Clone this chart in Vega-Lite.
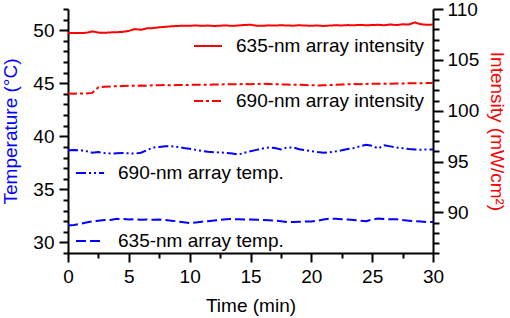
{
"$schema": "https://vega.github.io/schema/vega-lite/v6.json",
"width": 365, "height": 244,
"autosize": {"type": "none"},
"padding": {"left": 68, "top": 9, "right": 77, "bottom": 65},
"config": {
  "font": "Liberation Sans",
  "view": {"stroke": null},
  "axis": {"domainColor": "black", "domainWidth": 2, "tickColor": "black", "tickWidth": 2, "labelColor": "black", "labelFontSize": 19, "titleFontSize": 19, "titleFontWeight": "normal", "labelFont": "Liberation Sans", "titleFont": "Liberation Sans", "grid": false, "labelOverlap": false, "labelBound": false, "labelFlush": false},
  "legend": {"labelFontSize": 19, "labelFont": "Liberation Sans", "labelColor": "black", "labelLimit": 0, "symbolStrokeWidth": 2, "symbolSize": 784, "symbolType": "stroke", "padding": 0}
},
"datasets": {
"temp": [
{"t":0,"s":"690-nm array temp.","v":38.68},{"t":0.5,"s":"690-nm array temp.","v":38.7},{"t":1,"s":"690-nm array temp.","v":38.69},{"t":1.5,"s":"690-nm array temp.","v":38.6},{"t":2,"s":"690-nm array temp.","v":38.45},{"t":2.5,"s":"690-nm array temp.","v":38.52},{"t":3,"s":"690-nm array temp.","v":38.42},{"t":3.5,"s":"690-nm array temp.","v":38.38},{"t":4,"s":"690-nm array temp.","v":38.4},{"t":4.5,"s":"690-nm array temp.","v":38.42},{"t":5,"s":"690-nm array temp.","v":38.4},{"t":5.5,"s":"690-nm array temp.","v":38.37},{"t":6,"s":"690-nm array temp.","v":38.45},{"t":6.5,"s":"690-nm array temp.","v":38.7},{"t":7,"s":"690-nm array temp.","v":38.95},{"t":7.5,"s":"690-nm array temp.","v":39.0},{"t":8,"s":"690-nm array temp.","v":39.06},{"t":8.5,"s":"690-nm array temp.","v":39.07},{"t":9,"s":"690-nm array temp.","v":39.0},{"t":9.5,"s":"690-nm array temp.","v":38.9},{"t":10,"s":"690-nm array temp.","v":38.82},{"t":10.5,"s":"690-nm array temp.","v":38.72},{"t":11,"s":"690-nm array temp.","v":38.62},{"t":11.5,"s":"690-nm array temp.","v":38.55},{"t":12,"s":"690-nm array temp.","v":38.5},{"t":12.5,"s":"690-nm array temp.","v":38.48},{"t":13,"s":"690-nm array temp.","v":38.42},{"t":13.5,"s":"690-nm array temp.","v":38.38},{"t":14,"s":"690-nm array temp.","v":38.28},{"t":14.5,"s":"690-nm array temp.","v":38.45},{"t":15,"s":"690-nm array temp.","v":38.6},{"t":15.5,"s":"690-nm array temp.","v":38.72},{"t":16,"s":"690-nm array temp.","v":38.85},{"t":16.5,"s":"690-nm array temp.","v":38.95},{"t":17,"s":"690-nm array temp.","v":38.9},{"t":17.5,"s":"690-nm array temp.","v":38.77},{"t":18,"s":"690-nm array temp.","v":38.95},{"t":18.5,"s":"690-nm array temp.","v":38.95},{"t":19,"s":"690-nm array temp.","v":38.78},{"t":19.5,"s":"690-nm array temp.","v":38.7},{"t":20,"s":"690-nm array temp.","v":38.6},{"t":20.5,"s":"690-nm array temp.","v":38.52},{"t":21,"s":"690-nm array temp.","v":38.46},{"t":21.5,"s":"690-nm array temp.","v":38.5},{"t":22,"s":"690-nm array temp.","v":38.58},{"t":22.5,"s":"690-nm array temp.","v":38.68},{"t":23,"s":"690-nm array temp.","v":38.8},{"t":23.5,"s":"690-nm array temp.","v":38.9},{"t":24,"s":"690-nm array temp.","v":39.05},{"t":24.5,"s":"690-nm array temp.","v":39.2},{"t":25,"s":"690-nm array temp.","v":39.1},{"t":25.5,"s":"690-nm array temp.","v":38.86},{"t":26,"s":"690-nm array temp.","v":39.15},{"t":26.5,"s":"690-nm array temp.","v":39.05},{"t":27,"s":"690-nm array temp.","v":38.95},{"t":27.5,"s":"690-nm array temp.","v":38.88},{"t":28,"s":"690-nm array temp.","v":38.8},{"t":28.5,"s":"690-nm array temp.","v":38.75},{"t":29,"s":"690-nm array temp.","v":38.74},{"t":29.5,"s":"690-nm array temp.","v":38.75},{"t":30,"s":"690-nm array temp.","v":38.75},
{"t":0,"s":"635-nm array temp.","v":31.6},{"t":0.5,"s":"635-nm array temp.","v":31.65},{"t":1,"s":"635-nm array temp.","v":31.75},{"t":1.5,"s":"635-nm array temp.","v":31.88},{"t":2,"s":"635-nm array temp.","v":31.98},{"t":2.5,"s":"635-nm array temp.","v":32.05},{"t":3,"s":"635-nm array temp.","v":32.1},{"t":3.5,"s":"635-nm array temp.","v":32.12},{"t":4,"s":"635-nm array temp.","v":32.22},{"t":4.5,"s":"635-nm array temp.","v":32.2},{"t":5,"s":"635-nm array temp.","v":32.15},{"t":5.5,"s":"635-nm array temp.","v":32.18},{"t":6,"s":"635-nm array temp.","v":32.14},{"t":6.5,"s":"635-nm array temp.","v":32.16},{"t":7,"s":"635-nm array temp.","v":32.14},{"t":7.5,"s":"635-nm array temp.","v":32.15},{"t":8,"s":"635-nm array temp.","v":32.1},{"t":8.5,"s":"635-nm array temp.","v":32.05},{"t":9,"s":"635-nm array temp.","v":31.98},{"t":9.5,"s":"635-nm array temp.","v":31.9},{"t":10,"s":"635-nm array temp.","v":31.82},{"t":10.5,"s":"635-nm array temp.","v":31.88},{"t":11,"s":"635-nm array temp.","v":31.95},{"t":11.5,"s":"635-nm array temp.","v":32.0},{"t":12,"s":"635-nm array temp.","v":32.06},{"t":12.5,"s":"635-nm array temp.","v":32.12},{"t":13,"s":"635-nm array temp.","v":32.17},{"t":13.5,"s":"635-nm array temp.","v":32.2},{"t":14,"s":"635-nm array temp.","v":32.18},{"t":14.5,"s":"635-nm array temp.","v":32.16},{"t":15,"s":"635-nm array temp.","v":32.15},{"t":15.5,"s":"635-nm array temp.","v":32.14},{"t":16,"s":"635-nm array temp.","v":32.12},{"t":16.5,"s":"635-nm array temp.","v":32.08},{"t":17,"s":"635-nm array temp.","v":32.05},{"t":17.5,"s":"635-nm array temp.","v":32.0},{"t":18,"s":"635-nm array temp.","v":31.93},{"t":18.5,"s":"635-nm array temp.","v":31.92},{"t":19,"s":"635-nm array temp.","v":31.95},{"t":19.5,"s":"635-nm array temp.","v":31.97},{"t":20,"s":"635-nm array temp.","v":31.98},{"t":20.5,"s":"635-nm array temp.","v":32.05},{"t":21,"s":"635-nm array temp.","v":32.15},{"t":21.5,"s":"635-nm array temp.","v":32.24},{"t":22,"s":"635-nm array temp.","v":32.22},{"t":22.5,"s":"635-nm array temp.","v":32.18},{"t":23,"s":"635-nm array temp.","v":32.16},{"t":23.5,"s":"635-nm array temp.","v":32.1},{"t":24,"s":"635-nm array temp.","v":32.05},{"t":24.5,"s":"635-nm array temp.","v":32.0},{"t":25,"s":"635-nm array temp.","v":32.15},{"t":25.5,"s":"635-nm array temp.","v":32.24},{"t":26,"s":"635-nm array temp.","v":32.2},{"t":26.5,"s":"635-nm array temp.","v":32.18},{"t":27,"s":"635-nm array temp.","v":32.17},{"t":27.5,"s":"635-nm array temp.","v":32.1},{"t":28,"s":"635-nm array temp.","v":32.05},{"t":28.5,"s":"635-nm array temp.","v":32.0},{"t":29,"s":"635-nm array temp.","v":31.96},{"t":29.5,"s":"635-nm array temp.","v":31.92},{"t":30,"s":"635-nm array temp.","v":31.92}
],
"inten": [
{"t":0,"s":"635-nm array intensity","v":107.64},{"t":0.5,"s":"635-nm array intensity","v":107.65},{"t":1,"s":"635-nm array intensity","v":107.63},{"t":1.5,"s":"635-nm array intensity","v":107.66},{"t":2,"s":"635-nm array intensity","v":107.8},{"t":2.5,"s":"635-nm array intensity","v":107.68},{"t":3,"s":"635-nm array intensity","v":107.66},{"t":3.5,"s":"635-nm array intensity","v":107.7},{"t":4,"s":"635-nm array intensity","v":107.72},{"t":4.5,"s":"635-nm array intensity","v":107.75},{"t":5,"s":"635-nm array intensity","v":107.85},{"t":5.5,"s":"635-nm array intensity","v":108.02},{"t":6,"s":"635-nm array intensity","v":107.96},{"t":6.5,"s":"635-nm array intensity","v":108.1},{"t":7,"s":"635-nm array intensity","v":108.12},{"t":7.5,"s":"635-nm array intensity","v":108.2},{"t":8,"s":"635-nm array intensity","v":108.25},{"t":8.5,"s":"635-nm array intensity","v":108.3},{"t":9,"s":"635-nm array intensity","v":108.33},{"t":9.5,"s":"635-nm array intensity","v":108.36},{"t":10,"s":"635-nm array intensity","v":108.35},{"t":10.5,"s":"635-nm array intensity","v":108.38},{"t":11,"s":"635-nm array intensity","v":108.34},{"t":11.5,"s":"635-nm array intensity","v":108.37},{"t":12,"s":"635-nm array intensity","v":108.33},{"t":12.5,"s":"635-nm array intensity","v":108.36},{"t":13,"s":"635-nm array intensity","v":108.38},{"t":13.5,"s":"635-nm array intensity","v":108.34},{"t":14,"s":"635-nm array intensity","v":108.38},{"t":14.5,"s":"635-nm array intensity","v":108.43},{"t":15,"s":"635-nm array intensity","v":108.45},{"t":15.5,"s":"635-nm array intensity","v":108.36},{"t":16,"s":"635-nm array intensity","v":108.35},{"t":16.5,"s":"635-nm array intensity","v":108.39},{"t":17,"s":"635-nm array intensity","v":108.37},{"t":17.5,"s":"635-nm array intensity","v":108.4},{"t":18,"s":"635-nm array intensity","v":108.38},{"t":18.5,"s":"635-nm array intensity","v":108.36},{"t":19,"s":"635-nm array intensity","v":108.4},{"t":19.5,"s":"635-nm array intensity","v":108.37},{"t":20,"s":"635-nm array intensity","v":108.35},{"t":20.5,"s":"635-nm array intensity","v":108.38},{"t":21,"s":"635-nm array intensity","v":108.33},{"t":21.5,"s":"635-nm array intensity","v":108.37},{"t":22,"s":"635-nm array intensity","v":108.4},{"t":22.5,"s":"635-nm array intensity","v":108.38},{"t":23,"s":"635-nm array intensity","v":108.42},{"t":23.5,"s":"635-nm array intensity","v":108.4},{"t":24,"s":"635-nm array intensity","v":108.44},{"t":24.5,"s":"635-nm array intensity","v":108.4},{"t":25,"s":"635-nm array intensity","v":108.42},{"t":25.5,"s":"635-nm array intensity","v":108.45},{"t":26,"s":"635-nm array intensity","v":108.4},{"t":26.5,"s":"635-nm array intensity","v":108.48},{"t":27,"s":"635-nm array intensity","v":108.42},{"t":27.5,"s":"635-nm array intensity","v":108.5},{"t":28,"s":"635-nm array intensity","v":108.47},{"t":28.5,"s":"635-nm array intensity","v":108.68},{"t":29,"s":"635-nm array intensity","v":108.5},{"t":29.5,"s":"635-nm array intensity","v":108.45},{"t":30,"s":"635-nm array intensity","v":108.47},
{"t":0,"s":"690-nm array intensity","v":101.68},{"t":0.5,"s":"690-nm array intensity","v":101.67},{"t":1,"s":"690-nm array intensity","v":101.7},{"t":1.5,"s":"690-nm array intensity","v":101.68},{"t":2,"s":"690-nm array intensity","v":101.75},{"t":2.5,"s":"690-nm array intensity","v":102.3},{"t":3,"s":"690-nm array intensity","v":102.35},{"t":3.5,"s":"690-nm array intensity","v":102.38},{"t":4,"s":"690-nm array intensity","v":102.4},{"t":4.5,"s":"690-nm array intensity","v":102.42},{"t":5,"s":"690-nm array intensity","v":102.44},{"t":5.5,"s":"690-nm array intensity","v":102.45},{"t":6,"s":"690-nm array intensity","v":102.47},{"t":6.5,"s":"690-nm array intensity","v":102.46},{"t":7,"s":"690-nm array intensity","v":102.5},{"t":7.5,"s":"690-nm array intensity","v":102.49},{"t":8,"s":"690-nm array intensity","v":102.52},{"t":8.5,"s":"690-nm array intensity","v":102.5},{"t":9,"s":"690-nm array intensity","v":102.53},{"t":9.5,"s":"690-nm array intensity","v":102.52},{"t":10,"s":"690-nm array intensity","v":102.54},{"t":10.5,"s":"690-nm array intensity","v":102.55},{"t":11,"s":"690-nm array intensity","v":102.56},{"t":11.5,"s":"690-nm array intensity","v":102.55},{"t":12,"s":"690-nm array intensity","v":102.58},{"t":12.5,"s":"690-nm array intensity","v":102.57},{"t":13,"s":"690-nm array intensity","v":102.6},{"t":13.5,"s":"690-nm array intensity","v":102.59},{"t":14,"s":"690-nm array intensity","v":102.6},{"t":14.5,"s":"690-nm array intensity","v":102.62},{"t":15,"s":"690-nm array intensity","v":102.61},{"t":15.5,"s":"690-nm array intensity","v":102.63},{"t":16,"s":"690-nm array intensity","v":102.64},{"t":16.5,"s":"690-nm array intensity","v":102.62},{"t":17,"s":"690-nm array intensity","v":102.6},{"t":17.5,"s":"690-nm array intensity","v":102.58},{"t":18,"s":"690-nm array intensity","v":102.57},{"t":18.5,"s":"690-nm array intensity","v":102.55},{"t":19,"s":"690-nm array intensity","v":102.54},{"t":19.5,"s":"690-nm array intensity","v":102.52},{"t":20,"s":"690-nm array intensity","v":102.5},{"t":20.5,"s":"690-nm array intensity","v":102.48},{"t":21,"s":"690-nm array intensity","v":102.5},{"t":21.5,"s":"690-nm array intensity","v":102.52},{"t":22,"s":"690-nm array intensity","v":102.55},{"t":22.5,"s":"690-nm array intensity","v":102.57},{"t":23,"s":"690-nm array intensity","v":102.6},{"t":23.5,"s":"690-nm array intensity","v":102.62},{"t":24,"s":"690-nm array intensity","v":102.6},{"t":24.5,"s":"690-nm array intensity","v":102.63},{"t":25,"s":"690-nm array intensity","v":102.65},{"t":25.5,"s":"690-nm array intensity","v":102.64},{"t":26,"s":"690-nm array intensity","v":102.66},{"t":26.5,"s":"690-nm array intensity","v":102.65},{"t":27,"s":"690-nm array intensity","v":102.68},{"t":27.5,"s":"690-nm array intensity","v":102.67},{"t":28,"s":"690-nm array intensity","v":102.7},{"t":28.5,"s":"690-nm array intensity","v":102.69},{"t":29,"s":"690-nm array intensity","v":102.7},{"t":29.5,"s":"690-nm array intensity","v":102.71},{"t":30,"s":"690-nm array intensity","v":102.71}
]
},
"layer": [
  {
    "data": {"name": "temp"},
    "mark": {"type": "line", "strokeWidth": 2},
    "encoding": {
      "x": {"field": "t", "type": "quantitative", "scale": {"domain": [0, 30], "nice": false},
        "axis": {"title": "Time (min)", "values": [0,2.5,5,7.5,10,12.5,15,17.5,20,22.5,25,27.5,30], "tickSize": {"condition": {"test": "datum.value % 5 === 0", "value": 9}, "value": 5}, "labelExpr": "datum.value % 5 === 0 ? '' + datum.value : ''", "labelPadding": 5, "titlePadding": 10}},
      "y": {"field": "v", "type": "quantitative", "scale": {"domain": [29, 52], "nice": false, "zero": false},
        "axis": {"orient": "left", "title": "Temperature (°C)", "titleColor": "#0000FF", "values": [29,30,31,32,33,34,35,36,37,38,39,40,41,42,43,44,45,46,47,48,49,50,51,52], "tickSize": {"condition": {"test": "datum.value % 5 === 0", "value": 9}, "value": 5}, "labelExpr": "datum.value % 5 === 0 ? '' + datum.value : ''", "labelPadding": 5, "titlePadding": 12}},
      "color": {"field": "s", "type": "nominal", "scale": {"domain": ["690-nm array temp.", "635-nm array temp."], "range": ["#0000FF", "#0000FF"]},
        "legend": {"orient": "none", "legendX": 7, "legendY": 149, "title": null, "rowPadding": 43, "labelOffset": 13}},
      "strokeDash": {"field": "s", "type": "nominal", "scale": {"domain": ["690-nm array temp.", "635-nm array temp."], "range": [[10,3,2,3,2,3],[10,4]]},
        "legend": {"orient": "none", "legendX": 7, "legendY": 149, "title": null, "rowPadding": 43, "labelOffset": 13}}
    }
  },
  {
    "data": {"name": "inten"},
    "mark": {"type": "line", "strokeWidth": 2},
    "encoding": {
      "x": {"field": "t", "type": "quantitative", "scale": {"domain": [0, 30], "nice": false},
        "axis": {"title": "Time (min)", "values": [0,2.5,5,7.5,10,12.5,15,17.5,20,22.5,25,27.5,30], "tickSize": {"condition": {"test": "datum.value % 5 === 0", "value": 9}, "value": 5}, "labelExpr": "datum.value % 5 === 0 ? '' + datum.value : ''", "labelPadding": 5, "titlePadding": 10}},
      "y": {"field": "v", "type": "quantitative", "scale": {"domain": [86, 110], "nice": false, "zero": false},
        "axis": {"orient": "right", "title": "Intensity (mW/cm²)", "titleColor": "#FF0000", "values": [86,87,88,89,90,91,92,93,94,95,96,97,98,99,100,101,102,103,104,105,106,107,108,109,110], "tickSize": {"condition": {"test": "datum.value % 5 === 0", "value": 10}, "value": 6}, "labelExpr": "datum.value % 5 === 0 ? '' + datum.value : ''", "labelPadding": 4, "titlePadding": 8}},
      "color": {"field": "s", "type": "nominal", "scale": {"domain": ["635-nm array intensity", "690-nm array intensity"], "range": ["#FF0000", "#FF0000"]},
        "legend": {"orient": "none", "legendX": 125, "legendY": 22, "title": null, "rowPadding": 30, "labelOffset": 13}},
      "strokeDash": {"field": "s", "type": "nominal", "scale": {"domain": ["635-nm array intensity", "690-nm array intensity"], "range": [[1,0],[9,3,3,3]]},
        "legend": {"orient": "none", "legendX": 125, "legendY": 22, "title": null, "rowPadding": 30, "labelOffset": 13}}
    }
  }
],
"resolve": {"scale": {"y": "independent", "color": "independent", "strokeDash": "independent"}}
}
